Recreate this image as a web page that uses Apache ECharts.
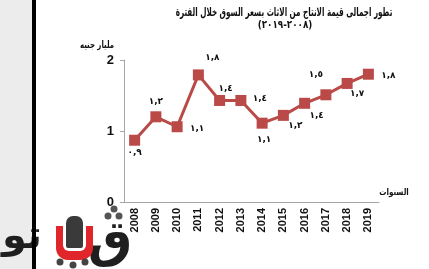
<!DOCTYPE html>
<html><head><meta charset="utf-8">
<script src="https://cdn.jsdelivr.net/npm/echarts@6/dist/echarts.min.js"></script>
<style>html,body{margin:0;padding:0;background:#fff}#c{width:429px;height:269px}</style>
</head><body><div id="c"></div>
<script>
const years = ['2008','2009','2010','2011','2012','2013','2014','2015','2016','2017','2018','2019'];
const values = [0.87, 1.20, 1.06, 1.79, 1.43, 1.43, 1.11, 1.22, 1.39, 1.51, 1.67, 1.80];
const yTicks = [0, 1, 2];
const titleLine1 = 'تطور اجمالى قيمة الانتاج من الاثاث بسعر السوق خلال الفترة';
const titleLine2 = '(٢٠٠٨-٢٠١٩)';
const yName = 'مليار جنيه';
const xName = 'السنوات';
const logoRight = 'ق';
const logoLeft = 'تو';

const arabicDigits = '٠١٢٣٤٥٦٧٨٩';
function toArabic(v){
  return v.toFixed(1).replace('.', ',').replace(/[0-9]/g, d => arabicDigits[+d]);
}
// label offsets relative to each point (styling only)
const labelOffsets = [[0,12],[0,-15],[20,2],[14,-17],[6,-12],[19,-2],[2,16],[12,10],[12,12],[-10,-20],[10,10],[20,1]];

const chart = echarts.init(document.getElementById('c'));
chart.setOption({
  animation: false,
  backgroundColor: '#fff',
  textStyle: {fontFamily: 'DejaVu Sans, Arial'},
  graphic: [
    {type:'rect', shape:{x:0,y:0,width:32,height:269}, style:{fill:'#ececec'}, z:-1},
    {type:'rect', shape:{x:32,y:0,width:4,height:269}, style:{fill:'#000'}, z:10},
    // watermark logo
    {type:'text', x: 110, y: 243, style:{text: logoRight, align:'center', verticalAlign:'middle', font:'bold 50px "DejaVu Sans"', fill:'#1f1f1f'}},
    {type:'text', x: 22, y: 238, scaleX: 1.05, style:{text: logoLeft, align:'center', verticalAlign:'middle', font:'bold 38px "DejaVu Sans"', fill:'#1f1f1f'}},
    {type:'rect', shape:{x:56,y:226,width:37,height:34,r:[0,0,12,12]}, style:{fill:'#e0262b'}},
    {type:'rect', shape:{x:63,y:226,width:23,height:25,r:[0,0,6,6]}, style:{fill:'#fff'}},
    {type:'rect', shape:{x:66,y:216,width:17,height:32,r:[7,7,2,2]}, style:{fill:'#3a3a3a'}},
    {type:'circle', shape:{cx:60,cy:262,r:3.5}, style:{fill:'#444'}},
    {type:'circle', shape:{cx:73,cy:265,r:3.5}, style:{fill:'#444'}},
    {type:'circle', shape:{cx:85,cy:262,r:3.5}, style:{fill:'#444'}},
    {type:'circle', shape:{cx:114,cy:209,r:3.5}, style:{fill:'#555'}},
    {type:'circle', shape:{cx:108,cy:216,r:3.5}, style:{fill:'#555'}},
    {type:'circle', shape:{cx:119,cy:216,r:3.5}, style:{fill:'#555'}},
    // titles
    {type:'text', x: 284, y: 13, scaleX: 0.6, style:{text: titleLine1, align:'center', verticalAlign:'middle', font:'bold 12px "DejaVu Sans"', fill:'#111'}},
    {type:'text', x: 285, y: 25, scaleX: 0.8, style:{text: titleLine2, align:'center', verticalAlign:'middle', font:'bold 11px "DejaVu Sans"', fill:'#111'}},
    {type:'text', x: 97, y: 45, scaleX: 0.7, style:{text: yName, align:'center', verticalAlign:'middle', font:'bold 10px "DejaVu Sans"', fill:'#111'}},
    {type:'text', x: 394, y: 193, scaleX: 0.8, style:{text: xName, align:'center', verticalAlign:'middle', font:'bold 9px "DejaVu Sans"', fill:'#111'}}
  ],
  grid: {left:124, right:50, top:60, bottom:67, containLabel:false},
  xAxis: {
    type:'category', data: years, boundaryGap:true,
    axisLine:{lineStyle:{color:'#a6a6a6', width:1}},
    axisTick:{show:false},
    axisLabel:{rotate:90, fontWeight:'bold', fontSize:11, color:'#111', fontFamily:'Liberation Sans, Arial', margin:6}
  },
  yAxis: {
    type:'value', min:0, max:2, interval:1,
    axisLine:{show:true, lineStyle:{color:'#a6a6a6'}},
    axisTick:{show:true, inside:false, length:4, lineStyle:{color:'#a6a6a6'}},
    splitLine:{show:false},
    axisLabel:{fontWeight:'bold', fontSize:13, color:'#111', fontFamily:'Liberation Sans, Arial', margin:10,
      formatter: v => yTicks.includes(v) ? String(v) : ''}
  },
  series: [{
    type:'line', data: values.map((v,i)=>({value:v, label:{offset: labelOffsets[i]}})),
    symbol:'rect', symbolSize:11,
    lineStyle:{color:'#b94a48', width:3},
    itemStyle:{color:'#b94a48'},
    label:{show:true, position:'inside', formatter: p => toArabic(p.value), fontSize:9, fontWeight:'bold', color:'#111', fontFamily:'DejaVu Sans'}
  }]
});
</script></body></html>
